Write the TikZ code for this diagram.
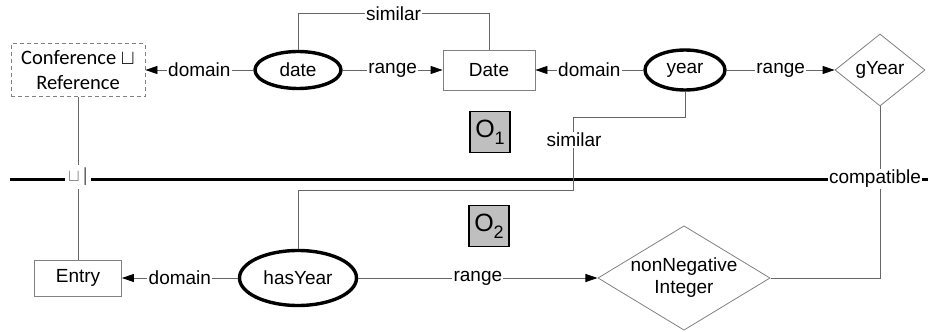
\documentclass[tikz,border=0pt]{standalone}
\usepackage{amssymb}
\usepackage{amsmath}
\usepackage{fontspec}
\setmainfont{Liberation Sans}
\newfontfamily\carlito{Carlito}
\usetikzlibrary{%
	arrows.meta,%
	shapes.geometric,%
	positioning
}
\newcommand{\onto}[1]{O\raisebox{-7pt}{\fontsize{18}{18}\selectfont #1}}

\begin{document}
\begin{tikzpicture}[x=1pt, y=-1pt,
		every node/.style={font=\fontsize{19}{22}\selectfont},
		cls/.style={draw=black!50, line width=0.8pt, inner sep=0pt},
		prop/.style={ellipse, draw, line width=3.4pt, inner sep=0pt},
		dtype/.style={diamond, draw=black!50, line width=0.8pt, inner sep=0pt},
		ontobox/.style={draw, line width=1.4pt, fill=black!25, minimum width=40pt, minimum height=41pt, inner sep=0pt, font=\fontsize{25}{28}\selectfont},
		link/.style={draw=black!60, line width=0.8pt},
		arr/.style={link, -{Triangle[length=12pt, width=8pt, black]}},
		lbl/.style={fill=white, inner sep=1.2pt}
	]
			
			\useasboundingbox (0,0) rectangle (935,332);
			
			\draw[line width=3pt] (10,179) coordinate (sepL) -- (928,179) coordinate (sepR);
			
			\node[cls, dashed, dash pattern=on 4pt off 3pt, minimum width=134pt, minimum height=53pt, align=center, font=\carlito\fontsize{20.5}{25}\selectfont] (conf) at (78,70) {Conference $\sqcup$\\Reference};
			\node[prop, minimum width=86pt, minimum height=37pt] (date) at (298,70) {date};
			\node[cls, minimum width=92pt, minimum height=40pt] (Date) at (489,70) {Date};
			\node[prop, minimum width=80pt, minimum height=40pt] (year) at (685,70) {year};
			\node[dtype, minimum width=90pt, minimum height=72pt] (gyear) at (880,70) {gYear};
			\node[ontobox] (o1) at (490,132) {\onto{1}};
			\node[ontobox] (o2) at (489,226) {\onto{2}};
			\node[cls, minimum width=87pt, minimum height=36pt] (entry) at (78,278) {Entry};
			\node[prop, minimum width=117pt, minimum height=55pt] (hasyear) at (298,278) {hasYear};
			\node[dtype, aspect=1.65, minimum width=168pt, minimum height=102pt, align=center] (nonneg) at (684,278) {nonNegative\\Integer};
			
			\draw[arr] (date) -- node[lbl] {domain} (conf);
			\draw[arr] (date) -- node[lbl] {range} (Date);
			\draw[arr] (year) -- node[lbl] {domain} (Date);
			\draw[arr] (year) -- node[lbl] {range} (gyear);
			\draw[arr] (hasyear) -- node[lbl] {domain} (entry);
			\draw[arr] (hasyear) -- node[lbl] {range} (nonneg);
			
			\draw[link] (date.north) -- ++(0,-36) -| node[lbl, pos=0.25] {similar} (Date.north);
			\draw[link] (year.south) -- ++(0,26) -| (573,190) -| (hasyear.north);
			\node[lbl] (sim) at (574,140) {similar};
			
			\draw[link] (gyear.south) |- (nonneg.east);
			\node[lbl] (compat) at (875,179) {compatible};
			
			\draw[link] (conf) -- (entry);
			\node[lbl, text=black!60, inner sep=3pt] (union) at (78,177) {$\sqcup$\,|};
		\end{tikzpicture}
\end{document}
